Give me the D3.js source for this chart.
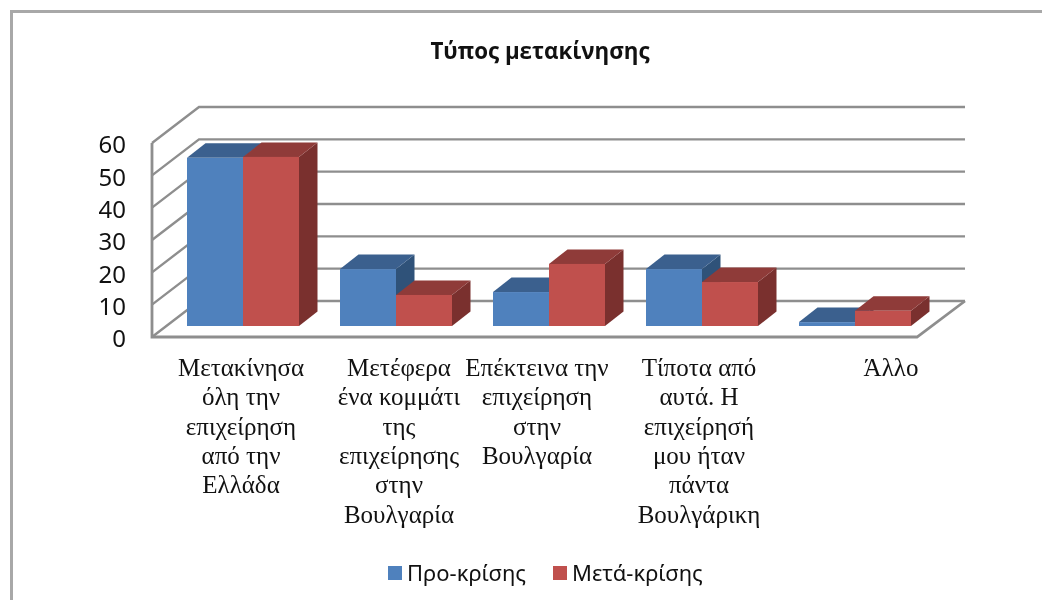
<!DOCTYPE html>
<html><head><meta charset="utf-8">
<script src="https://d3js.org/d3.v7.min.js"></script>
<style>html,body{margin:0;padding:0;background:#fff}svg{display:block;filter:blur(0.35px)}</style>
</head><body><svg id="c" width="1042" height="600"></svg>
<script>
const categories = [
  ["Μετακίνησα","όλη την","επιχείρηση","από την","Ελλάδα"],
  ["Μετέφερα","ένα κομμάτι","της","επιχείρησης","στην","Βουλγαρία"],
  ["Επέκτεινα την","επιχείρηση","στην","Βουλγαρία"],
  ["Τίποτα από","αυτά. Η","επιχείρησή","μου ήταν","πάντα","Βουλγάρικη"],
  ["Άλλο"]
];
const seriesNames = ["Προ-κρίσης","Μετά-κρίσης"];
const preCrisis = [52, 17.6, 10.5, 17.6, 1.2];
const postCrisis = [52.3, 9.6, 19.2, 13.6, 4.7];
const yTicks = [0,10,20,30,40,50,60];
const title = "Τύπος μετακίνησης";

const frontColors = ["#4f81bd","#c0504d"], topColors = ["#3b608e","#8f3b39"], sideColors = ["#2f5279","#7a302e"];
const labelShift = [-2, 3, -12, -3, 36];
const grid = "#8e8e8e";
const svg = d3.select("#c");

// frame
svg.append("path").attr("d","M11.5,600V11.5H1042").attr("fill","none").attr("stroke","#a8a8a8").attr("stroke-width",3);

const y = d3.scaleLinear().domain([0,60]).range([337,143]);
const x = d3.scaleBand().domain(d3.range(categories.length)).range([166.5,931.5]);
const sub = d3.scaleBand().domain([0,1]).range([0,112]);
const wallDx = 47, wallDy = -36, barLift = -11, depthDx = 18.5, depthDy = -14.5;
const x0 = 152, x1 = 917;

// walls and gridlines
const g = svg.append("g").attr("fill","none").attr("stroke",grid).attr("stroke-width",2.4);
yTicks.forEach(t=>{
  g.append("path").attr("d",`M${x0},${y(t)}L${x0+wallDx},${y(t)+wallDy}H${x1+wallDx+1}`);
});
g.append("path").attr("d",`M${x0},${y(60)}V${y(0)}H${x1}L${x1+wallDx+1},${y(0)+wallDy}`).attr("stroke-width",2.8);

// bars
const barsG = svg.append("g");
categories.forEach((c,i)=>{
  const px = x(i)+x.bandwidth()/2-sub.bandwidth();
  [preCrisis[i],postCrisis[i]].forEach((v,s)=>{
    const l = px+sub(s), w = sub.bandwidth(), r = l+w;
    const b = y(0)+barLift, t = y(v)+barLift;
    const dx = depthDx, dy = depthDy;
    barsG.append("path").attr("fill",sideColors[s]).attr("d",`M${r},${b}L${r+dx},${b+dy}V${t+dy}L${r},${t}Z`);
    barsG.append("path").attr("fill",topColors[s]).attr("d",`M${l},${t}L${l+dx},${t+dy}H${r+dx}L${r},${t}Z`);
    barsG.append("rect").attr("x",l).attr("y",t).attr("width",w).attr("height",b-t).attr("fill",frontColors[s]);
  });
});

// y axis
const axis = svg.append("g").attr("transform","translate(135,2)").call(d3.axisLeft(y).tickValues(yTicks).tickSize(0).tickPadding(9));
axis.select(".domain").remove();
axis.selectAll("text").attr("font-family","'Noto Sans',sans-serif").attr("font-size",24).attr("fill","#111");

// category labels
const lab = svg.append("g").attr("font-family","'Liberation Serif',serif").attr("font-size",25).attr("fill","#111").attr("text-anchor","middle");
categories.forEach((lines,i)=>{
  const cx = x(i)+x.bandwidth()/2+labelShift[i];
  lines.forEach((t,j)=>lab.append("text").attr("x",cx).attr("y",376+j*29.3).text(t));
});

// title
svg.append("text").attr("x",540).attr("y",59).attr("text-anchor","middle").attr("font-family","'Open Sans',sans-serif").attr("font-weight",700).attr("font-size",22.3).attr("fill","#111").text(title);

// legend
const legX = [388,553];
seriesNames.forEach((n,i)=>{
  svg.append("rect").attr("x",legX[i]).attr("y",566).attr("width",14).attr("height",14).attr("fill",frontColors[i]);
  svg.append("text").attr("x",legX[i]+19).attr("y",581).attr("font-family","'Noto Sans',sans-serif").attr("font-size",22).attr("fill","#111").text(n);
});
</script></body></html>
